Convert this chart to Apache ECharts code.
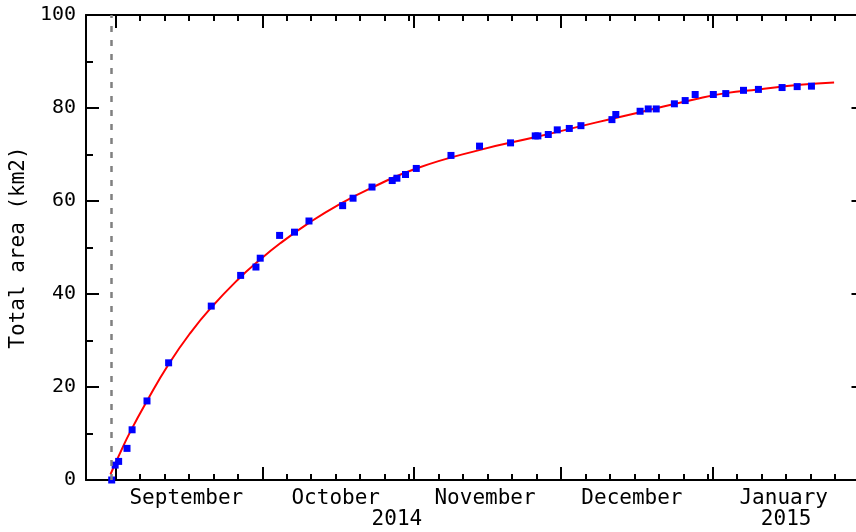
<!DOCTYPE html>
<html><head><meta charset="utf-8">
<script src="https://cdn.jsdelivr.net/npm/echarts@6/dist/echarts.min.js"></script>
<style>html,body{margin:0;padding:0;background:#fff}#c{width:856px;height:532px}</style>
</head><body><div id="c"></div>
<script>
// ---- data ----
const axisStart = '2014-08-26 00:00';
const axisEnd = '2015-02-01 00:00';
const eruptionStart = '2014-08-31 06:00';

const pointDates = [
 '2014-08-31 06:00','2014-08-31 23:00','2014-09-01 16:00','2014-09-03 09:00','2014-09-04 10:00',
 '2014-09-07 11:00','2014-09-11 21:00','2014-09-20 14:00','2014-09-26 14:00','2014-09-29 17:00',
 '2014-09-30 14:00','2014-10-04 13:00','2014-10-07 14:00','2014-10-10 13:00','2014-10-17 10:00',
 '2014-10-19 13:00','2014-10-23 10:00','2014-10-27 13:00','2014-10-28 12:00','2014-10-30 06:00',
 '2014-11-01 11:00','2014-11-08 13:00','2014-11-14 09:00','2014-11-20 17:00','2014-11-25 18:00',
 '2014-11-26 07:00','2014-11-28 10:00','2014-11-30 06:00','2014-12-02 17:00','2014-12-05 02:00',
 '2014-12-11 10:00','2014-12-12 05:00','2014-12-17 04:00','2014-12-18 20:00','2014-12-20 11:00',
 '2014-12-24 04:00','2014-12-26 09:00','2014-12-28 10:00','2015-01-01 03:00','2015-01-03 16:00',
 '2015-01-07 07:00','2015-01-10 08:00','2015-01-15 04:00','2015-01-18 06:00','2015-01-21 04:00'
];
const pointValues = [
 0, 3.2, 4.0, 6.8, 10.8,
 17.0, 25.2, 37.4, 44.0, 45.8,
 47.7, 52.6, 53.3, 55.7, 59.0,
 60.6, 63.0, 64.4, 64.9, 65.7,
 67.0, 69.8, 71.8, 72.5, 74.0,
 74.0, 74.3, 75.3, 75.6, 76.2,
 77.5, 78.6, 79.3, 79.8, 79.8,
 80.9, 81.6, 82.9, 82.9, 83.1,
 83.8, 84.0, 84.4, 84.6, 84.7
];

const curveDates = [
 '2014-08-31 00:00','2014-09-01 00:00','2014-09-02 00:00','2014-09-04 00:00','2014-09-07 11:00',
 '2014-09-11 21:00','2014-09-16 07:00','2014-09-20 14:00','2014-09-26 12:00','2014-09-29 19:00',
 '2014-10-04 16:00','2014-10-10 13:00','2014-10-16 22:00','2014-10-23 11:00','2014-11-01 11:00',
 '2014-11-14 12:00','2014-11-26 02:00','2014-12-05 02:00','2014-12-11 01:00','2014-12-17 04:00',
 '2014-12-28 10:00','2015-01-03 16:00','2015-01-10 07:00','2015-01-18 20:00','2015-01-25 19:00'
];
const curveValues = [
 1.2, 3.6, 5.9, 10.3, 17.0,
 24.9, 31.6, 37.1, 43.6, 46.7,
 50.9, 55.3, 59.4, 62.9, 67.0,
 71.0, 73.8, 76.1, 77.6, 79.1,
 81.9, 83.2, 84.0, 85.0, 85.5
];

const monthTickDates = ['2014-09-01 00:00','2014-10-01 00:00','2014-11-01 00:00','2014-12-01 00:00','2015-01-01 00:00'];
const dayTickDates = [
 '2014-09-06 00:00','2014-09-11 00:00','2014-09-16 00:00','2014-09-21 00:00','2014-09-26 00:00',
 '2014-10-06 00:00','2014-10-11 00:00','2014-10-16 00:00','2014-10-21 00:00','2014-10-26 00:00','2014-10-31 00:00',
 '2014-11-06 00:00','2014-11-11 00:00','2014-11-16 00:00','2014-11-21 00:00','2014-11-26 00:00',
 '2014-12-06 00:00','2014-12-11 00:00','2014-12-16 00:00','2014-12-21 00:00','2014-12-26 00:00','2014-12-31 00:00',
 '2015-01-06 00:00','2015-01-11 00:00','2015-01-16 00:00','2015-01-21 00:00','2015-01-26 00:00'
];
const monthLabels = ['September','October','November','December','January'];
const monthLabelDates = ['2014-09-15 12:00','2014-10-16 00:00','2014-11-15 12:00','2014-12-15 12:00','2015-01-15 12:00'];
const yearLabels = ['2014','2015'];
const yearLabelDates = ['2014-10-28 12:00','2015-01-16 00:00'];
const yTitle = 'Total area (km2)';

// ---- build ----
function ts(s){
  const [d,t] = s.split(' ');
  const [y,m,dd] = d.split('-').map(Number);
  const [h,mi] = t.split(':').map(Number);
  return new Date(y, m-1, dd, h, mi).getTime();
}
const monthMap = {}; monthLabelDates.forEach((d,i)=>{ monthMap[ts(d)] = monthLabels[i]; });
const yearMap = {}; yearLabelDates.forEach((d,i)=>{ yearMap[ts(d)] = yearLabels[i]; });

const FONT = 'DejaVu Sans Mono';
const lineStyle = {color:'#000', width:2};
const xMin = ts(axisStart), xMax = ts(axisEnd);

function xAx(pos, tickVals, len, labelVals, fmt, margin, showLine){
  return {
    type:'value', position:pos, min:xMin, max:xMax, scale:true,
    axisLine:{show:showLine, onZero:false, lineStyle:lineStyle},
    axisTick:{show:true, inside:true, length:len, customValues:tickVals, lineStyle:lineStyle},
    axisLabel: labelVals ? {show:true, customValues:labelVals, formatter:fmt, color:'#000',
                fontFamily:FONT, fontSize:21, margin:margin, hideOverlap:false} : {show:false},
    splitLine:{show:false}, minorTick:{show:false}
  };
}
function yAx(pos, showLabel){
  return {
    type:'value', position:pos, min:0, max:100, interval:20,
    axisLine:{show:true, onZero:false, lineStyle:lineStyle},
    axisTick:{show:true, inside:true, length:13, lineStyle:lineStyle},
    minorTick:{show:true, splitNumber:2, length:7, lineStyle:lineStyle},
    axisLabel:{show:showLabel, color:'#000', fontFamily:FONT, fontSize:20, margin:10},
    splitLine:{show:false}, minorSplitLine:{show:false}
  };
}
const yLeft = yAx('left', true);
yLeft.name = yTitle; yLeft.nameLocation = 'middle'; yLeft.nameGap = 55;
yLeft.nameTextStyle = {fontFamily:FONT, fontSize:21, color:'#000'};

const option = {
  animation:false,
  backgroundColor:'#fff',
  grid:{left:86, top:15, width:778.5, height:465, containLabel:false, outerBoundsMode:'none'},
  xAxis:[
    xAx('bottom', monthTickDates.map(ts), 13, monthLabelDates.map(ts), v=>monthMap[v]||'', 8, true),
    xAx('bottom', dayTickDates.map(ts), 6, yearLabelDates.map(ts), v=>yearMap[v]||'', 29, false),
    xAx('top', monthTickDates.map(ts), 13, null, null, 0, true),
    xAx('top', dayTickDates.map(ts), 6, null, null, 0, false)
  ],
  yAxis:[yLeft, yAx('right', false)],
  series:[
    {
      type:'line', xAxisIndex:0, yAxisIndex:0,
      data: curveDates.map((d,i)=>[ts(d), curveValues[i]]),
      smooth:0.5, showSymbol:false, symbol:'none',
      lineStyle:{color:'#ff0000', width:2}, itemStyle:{color:'#ff0000'},
      markLine:{
        silent:true, symbol:['none','none'], label:{show:false},
        lineStyle:{color:'#808080', type:[6,8], width:2.5},
        emphasis:{disabled:true},
        data:[{xAxis: ts(eruptionStart)}]
      },
      z:2
    },
    {
      type:'scatter', xAxisIndex:0, yAxisIndex:0,
      data: pointDates.map((d,i)=>[ts(d), pointValues[i]]),
      symbol:'rect', symbolSize:7,
      itemStyle:{color:'#0000ff', opacity:1},
      z:3
    }
  ]
};
const chart = echarts.init(document.getElementById('c'), null, {renderer:'canvas'});
chart.setOption(option);
</script>
</body></html>
